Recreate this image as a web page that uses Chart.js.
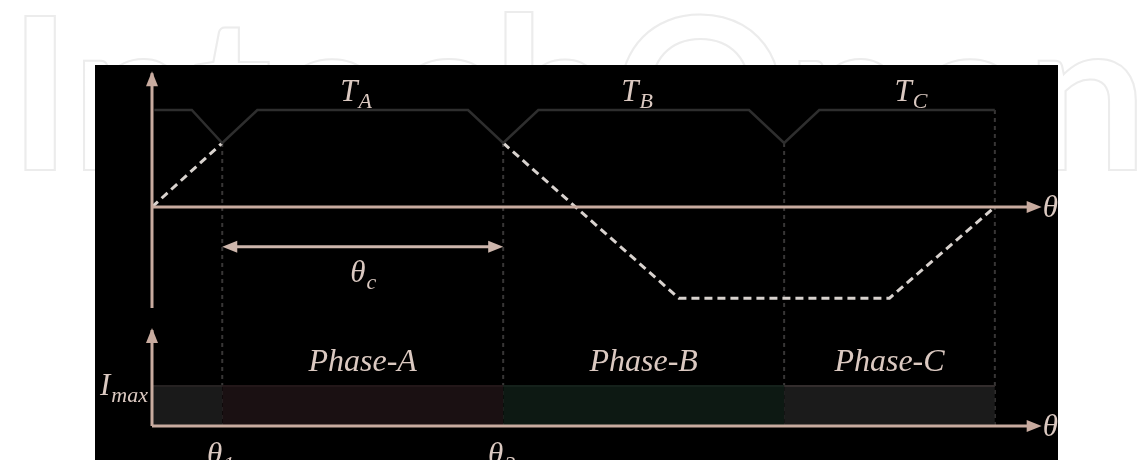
<!DOCTYPE html>
<html>
<head>
<meta charset="utf-8">
<script src="https://cdn.jsdelivr.net/npm/chart.js@4.4.1/dist/chart.umd.min.js"></script>
<style>
  body { margin: 0; background: #fff; }
  #wave { display: block; }
</style>
</head>
<body>
<canvas id="wave" width="1140" height="460"></canvas>
<script>
// data (x in electrical degrees, upper plot y in units of flat torque, lower plot in units of Imax)
const torqueX = [1, 17, 30, 45, 135, 150, 165, 255, 270, 285, 360];
const torqueY = [1, 1, 0.66, 1, 1, 0.66, 1, 1, 0.66, 1, 1];
const emfRiseX = [0, 30];
const emfRiseY = [0, 0.66];
const emfFallX = [150, 225, 315, 360];
const emfFallY = [0.66, -0.94, -0.94, 0];
const phaseNames = ["", "Phase-A", "Phase-B", "Phase-C"];
const phaseStart = [0, 30, 150, 270];
const phaseEnd = [30, 150, 270, 360];
const phaseCurrent = [1, 1, 1, 1];
const torqueNames = ["A", "B", "C"];
const torqueLabelX = [87, 207, 324];
const tickNames = ["1", "2"];
const tickX = [30, 150];
const conductionFrom = 30;
const conductionTo = 150;

//==========================================================================
const phaseFill = ["#1a1a1a", "#1a1012", "#0d1913", "#1b1b1b"];
const phaseEdge = ["#262222", "#231719", "#15211b", "#332d2d"];
const axisColor = "#c8ab9f";
const textColor = "#dbc9c1";
const serif = "'Liberation Serif', 'DejaVu Serif', serif";

const pts = (xs, ys) => xs.map((x, i) => ({ x: x, y: ys[i] }));

function arrowHead(ctx, x, y, dx, dy) {
  const len = 15, half = 6;
  ctx.beginPath();
  ctx.moveTo(x, y);
  ctx.lineTo(x - dx * len - dy * half, y - dy * len + dx * half);
  ctx.lineTo(x - dx * len + dy * half, y - dy * len - dx * half);
  ctx.closePath();
  ctx.fill();
}

// italic symbol with subscript
function subText(ctx, main, sub, x, y, size, align) {
  ctx.font = "italic " + size + "px " + serif;
  const w1 = ctx.measureText(main).width;
  ctx.font = "italic " + Math.round(size * 0.72) + "px " + serif;
  const w2 = ctx.measureText(sub).width;
  let left = x;
  if (align === "center") left = x - (w1 + w2) / 2;
  if (align === "right") left = x - (w1 + w2);
  ctx.textAlign = "left";
  ctx.textBaseline = "alphabetic";
  ctx.font = "italic " + size + "px " + serif;
  ctx.fillText(main, left, y);
  ctx.font = "italic " + Math.round(size * 0.72) + "px " + serif;
  ctx.fillText(sub, left + w1 + 1, y + size * 0.22);
}

const backdrop = {
  id: "backdrop",
  beforeDraw(chart) {
    const ctx = chart.ctx;
    ctx.save();
    ctx.fillStyle = "#fff";
    ctx.fillRect(0, 0, chart.width, chart.height);
    // watermark
    ctx.font = "bold 212px Lato";
    ctx.textBaseline = "alphabetic";
    const w = ctx.measureText("IntechOpen").width;
    const sx = 1140 / w;
    ctx.translate(8, 170);
    ctx.scale(sx, 1);
    ctx.strokeStyle = "#ececec";
    ctx.lineWidth = 2;
    ctx.strokeText("IntechOpen", 0, 0);
    ctx.restore();
    ctx.fillStyle = "#000";
    ctx.fillRect(95, 65, 963, chart.height - 65);
  },
  beforeDatasetsDraw(chart) {
    const ctx = chart.ctx;
    const x = chart.scales.x, y = chart.scales.y, y2 = chart.scales.y2;
    ctx.save();
    ctx.strokeStyle = "#383636";
    ctx.lineWidth = 2;
    ctx.setLineDash([4, 4]);
    phaseEnd.forEach((e) => {
      const topVal = e === 360 ? 1 : 0.66;
      ctx.beginPath();
      ctx.moveTo(x.getPixelForValue(e), y.getPixelForValue(topVal));
      ctx.lineTo(x.getPixelForValue(e), y2.getPixelForValue(0));
      ctx.stroke();
    });
    ctx.restore();
  },
  afterDatasetsDraw(chart) {
    const ctx = chart.ctx;
    const x = chart.scales.x, y = chart.scales.y, y2 = chart.scales.y2;
    const x0 = x.getPixelForValue(0);
    const xEnd = x.getPixelForValue(380);
    ctx.save();
    ctx.strokeStyle = axisColor;
    ctx.fillStyle = axisColor;
    ctx.lineWidth = 3;

    // upper axes
    ctx.beginPath();
    ctx.moveTo(x0, y.getPixelForValue(-1.04));
    ctx.lineTo(x0, y.getPixelForValue(1.38));
    ctx.moveTo(x0, y.getPixelForValue(0));
    ctx.lineTo(xEnd - 10, y.getPixelForValue(0));
    ctx.stroke();
    arrowHead(ctx, x0, y.getPixelForValue(1.4), 0, -1);
    arrowHead(ctx, xEnd, y.getPixelForValue(0), 1, 0);

    // lower axes
    ctx.beginPath();
    ctx.moveTo(x0, y2.getPixelForValue(0));
    ctx.lineTo(x0, y2.getPixelForValue(2.4));
    ctx.moveTo(x0, y2.getPixelForValue(0));
    ctx.lineTo(xEnd - 10, y2.getPixelForValue(0));
    ctx.stroke();
    arrowHead(ctx, x0, y2.getPixelForValue(2.45), 0, -1);
    arrowHead(ctx, xEnd, y2.getPixelForValue(0), 1, 0);

    // conduction width arrow
    const ya = y.getPixelForValue(-0.41);
    const xa = x.getPixelForValue(conductionFrom), xb = x.getPixelForValue(conductionTo);
    ctx.strokeStyle = "#cdb6ac";
    ctx.fillStyle = "#cdb6ac";
    ctx.beginPath();
    ctx.moveTo(xa + 8, ya);
    ctx.lineTo(xb - 8, ya);
    ctx.stroke();
    arrowHead(ctx, xa, ya, -1, 0);
    arrowHead(ctx, xb, ya, 1, 0);

    // labels
    ctx.fillStyle = textColor;
    torqueNames.forEach((n, i) => {
      subText(ctx, "T", n, x.getPixelForValue(torqueLabelX[i]), 101, 31, "center");
    });
    subText(ctx, "\u03b8", "c", x.getPixelForValue((conductionFrom + conductionTo) / 2), 282, 31, "center");
    ctx.font = "italic 31px " + serif;
    ctx.textAlign = "left";
    ctx.textBaseline = "middle";
    ctx.fillText("\u03b8", xEnd + 1, y.getPixelForValue(0) + 2);
    ctx.fillText("\u03b8", xEnd + 1, y2.getPixelForValue(0) + 2);
    ctx.textAlign = "center";
    ctx.textBaseline = "alphabetic";
    phaseNames.forEach((n, i) => {
      if (!n) return;
      ctx.font = "italic 32px " + serif;
      ctx.fillText(n, x.getPixelForValue((phaseStart[i] + phaseEnd[i]) / 2), 371);
    });
    subText(ctx, "I", "max", x0 - 5, y2.getPixelForValue(1) + 9, 31, "right");
    tickNames.forEach((n, i) => {
      subText(ctx, "\u03b8", n, x.getPixelForValue(tickX[i]) - 2, 464, 31, "center");
    });
    ctx.restore();
  },
};

const datasets = [
  {
    label: "T",
    data: pts(torqueX, torqueY),
    yAxisID: "y",
    borderColor: "#2e2e2e",
    borderWidth: 2.5,
  },
  {
    label: "emf rise",
    data: pts(emfRiseX, emfRiseY),
    yAxisID: "y",
    borderColor: "#d8d2ce",
    borderWidth: 3,
    borderDash: [8, 5],
  },
  {
    label: "emf fall",
    data: pts(emfFallX, emfFallY),
    yAxisID: "y",
    borderColor: "#d8d2ce",
    borderWidth: 3,
    borderDash: [8, 5],
  },
];
phaseStart.forEach((s, i) => {
  datasets.push({
    label: phaseNames[i] || "pre",
    data: [
      { x: s, y: phaseCurrent[i] },
      { x: phaseEnd[i], y: phaseCurrent[i] },
    ],
    yAxisID: "y2",
    fill: "origin",
    backgroundColor: phaseFill[i],
    borderColor: phaseEdge[i],
    borderWidth: 2,
  });
});

const waveChart = new Chart(document.getElementById("wave"), {
  type: "line",
  data: { datasets: datasets },
  plugins: [backdrop],
  options: {
    responsive: false,
    animation: false,
    layout: { padding: { left: 152, right: 0, top: 0, bottom: 0 } },
    elements: { point: { radius: 0 }, line: { tension: 0 } },
    scales: {
      x: { type: "linear", min: 0, max: 422, display: false },
      y: { type: "linear", min: -2.608, max: 2.134, display: false },
      y2: { type: "linear", min: -0.85, max: 10.65, display: false },
    },
    plugins: {
      legend: { display: false },
      tooltip: { enabled: false },
    },
  },
});
</script>
</body>
</html>
